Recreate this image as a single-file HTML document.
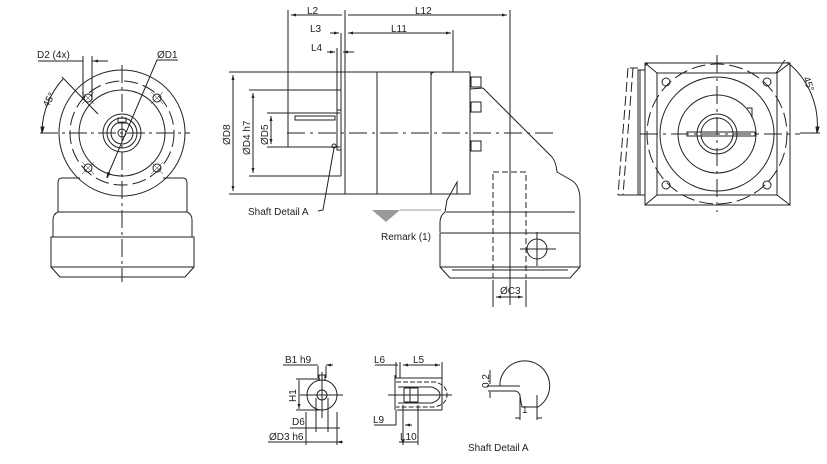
<!DOCTYPE html>
<html><head><style>
html,body{margin:0;padding:0;background:#fff;}
svg{display:block;font-family:"Liberation Sans",Arial,sans-serif;}
text{font-size:10px;fill:#222;}
</style></head><body>
<svg width="827" height="464" viewBox="0 0 827 464" xmlns="http://www.w3.org/2000/svg">
<defs>
<marker id="a" viewBox="0 0 10 10" refX="10" refY="5" markerWidth="7" markerHeight="5" orient="auto-start-reverse"><path d="M0,2 L10,5 L0,8 z" fill="#222"/></marker>
</defs>
<g stroke="#222" stroke-width="1" fill="none">
<!-- LEFT VIEW -->
<circle cx="122" cy="133" r="63"/>
<circle cx="122" cy="133" r="52" stroke-dasharray="14,5"/>
<circle cx="122" cy="133" r="43"/>
<circle cx="122" cy="133" r="19"/>
<circle cx="122" cy="133" r="15"/>
<circle cx="122" cy="133" r="11"/>
<circle cx="122" cy="133" r="4"/>
<rect x="118" y="118" width="8" height="5"/>
<g><circle cx="88" cy="98" r="4"/><circle cx="157" cy="98" r="4"/><circle cx="88" cy="168" r="4"/><circle cx="157" cy="168" r="4"/></g>
<path d="M82,92 l12,12 M94,92 l-12,12 M151,92 l12,12 M163,92 l-12,12 M82,162 l12,12 M94,162 l-12,12 M151,162 l12,12 M163,162 l-12,12" stroke-width="0.5"/>
<path d="M40,133 H190" stroke-dasharray="18,4,3,4"/>
<path d="M122,65 V282" stroke-dasharray="18,4,3,4"/>
<path d="M80,178 H62 Q58,178 58,183 V212 H187 V183 Q187,178 183,178 H163"/>
<path d="M58,212 Q53,214 53,220 V237 H192 V220 Q192,214 187,212"/>
<path d="M51,237 V267 L60,277 H185 L194,267 V237 Z"/>
<path d="M51,267 H194"/>
<!-- D1 leader -->
<path d="M178,60 H157 L107,177"/>
<path d="M108,172 l-1,6 l3,-5" fill="#222"/>
<!-- D2 -->
<path d="M38,61 H83 M92,61 H108 M83,56 V100 M92,56 V100"/>
<path d="M76,61 h6 M99,61 h-6" marker-end="url(#a)"/>
<!-- 45 arc -->
<path d="M62,77 L98,114"/>
<path d="M63,79 A80,80 0 0 0 42,133" />
<path d="M42,133 l-1,-6 l3,0 z" fill="#222"/>

<!-- MIDDLE VIEW -->
<path d="M288,10 V147 M345,10 V194 M341,33 V176 M337,48 V150 M453,30 V72 M510,10 V305"/>
<path d="M291,15 H342 M348,15 H507" marker-start="url(#a)" marker-end="url(#a)"/>
<path d="M330,33 H339" marker-end="url(#a)"/>
<path d="M348,33 H451" marker-start="url(#a)" marker-end="url(#a)"/>
<path d="M327,52 H335" marker-end="url(#a)"/>
<path d="M354,52 H343" marker-end="url(#a)"/>
<!-- left dims -->
<path d="M229,72 H345 M249,90 H341 M267,113 H340 M267,147 H340 M249,176 H341 M229,194 H345"/>
<path d="M233,75 V191" marker-start="url(#a)" marker-end="url(#a)"/>
<path d="M253,93 V173" marker-start="url(#a)" marker-end="url(#a)"/>
<path d="M271,116 V144" marker-start="url(#a)" marker-end="url(#a)"/>
<!-- shaft -->
<path d="M288,113 H337 M288,147 H337"/>
<rect x="295" y="116" width="40" height="4"/>
<rect x="337" y="110" width="4" height="40"/>
<circle cx="334" cy="146" r="2"/>
<path d="M334,148 L323,210 L318,211"/>
<!-- body -->
<rect x="345" y="72" width="86" height="122"/>
<path d="M377,72 V194"/>
<path d="M431,72 H435 Q431,72 431,76 M431,76 V194 M435,72 H470 V194 H431"/>
<path d="M470,89 L483,88 L552,157 Q556,162 557,172 L571,180 Q580,185 580,200 V232"/>
<path d="M470,194 L457,194 L457,182 L447,200 L445,212 Q440,216 440,222 V232"/>
<path d="M446,212 H575"/>
<rect x="471" y="77" width="10" height="10"/>
<rect x="471" y="102" width="10" height="10"/>
<rect x="471" y="141" width="10" height="10"/>
<path d="M440,233 H580 V267 L570,278 H450 L440,267 Z"/>
<path d="M440,267 H580 M452,270 H568"/>
<rect x="493" y="172" width="33" height="106" stroke-dasharray="6,3"/>
<circle cx="537" cy="249" r="10"/>
<path d="M520,249 H556 M537,232 V266"/>
<path d="M287,133 H557" stroke-dasharray="18,5,3,5"/>
<path d="M493,280 V307 M526,280 V307"/>
<path d="M496,297 H523" marker-start="url(#a)" marker-end="url(#a)"/>
<path d="M400,210 H441" stroke="#999"/>

<!-- RIGHT VIEW -->
<rect x="645" y="63" width="145" height="142"/>
<rect x="657" y="73" width="120" height="122"/>
<path d="M645,63 L657,73 M790,63 L777,73 M645,205 L657,195 M790,205 L777,195 M648,63 l-3,3"/>
<circle cx="717" cy="134" r="70" stroke-dasharray="14,5"/>
<circle cx="717" cy="134" r="57"/>
<circle cx="717" cy="134" r="39"/>
<circle cx="717" cy="134" r="20"/>
<circle cx="717" cy="134" r="16"/>
<rect x="687" y="132" width="68" height="4"/>
<path d="M747,108 H752 V118"/>
<circle cx="666" cy="82" r="4"/><circle cx="767" cy="82" r="4"/><circle cx="666" cy="185" r="4"/><circle cx="767" cy="185" r="4"/>
<path d="M640,70 V195 M645,70 H638 V195 H645"/>
<path d="M628,68 L618,195 M633,68 L623,195" stroke-dasharray="10,4"/>
<path d="M630,68 H638 M618,195 H638"/>
<path d="M640,134 H800 M717,55 V212" stroke-dasharray="18,5,3,5"/>
<path d="M785,60 L776,73 M787,62 A80,80 0 0 1 817,133 M800,133 H820"/>
<path d="M817,133 l-1,-6 l3,0 z" fill="#222"/>

<!-- DETAIL 1 -->
<circle cx="322" cy="395" r="15"/>
<circle cx="322" cy="395" r="5"/>
<path d="M319,380 V375 H325 V380"/>
<path d="M300,395 H343 M322,372 V418"/>
<path d="M318,366 V378 M326,366 V378 M283,365 H318"/>
<path d="M312,365 h6 M333,365 h-7" marker-end="url(#a)"/>
<path d="M296,379 H320 M296,410 H320 M299,382 V407" />
<path d="M299,382 V380 M299,407 V409" marker-end="url(#a)"/>
<path d="M316,398 V432 M328,398 V432 M306,412 V445 M337,412 V445"/>
<path d="M290,428 H340 M268,442 H340"/>
<path d="M310,428 h6 M334,428 h-6 M300,442 h6 M343,442 h-6" marker-end="url(#a)"/>
<!-- DETAIL 2 -->
<path d="M395,378 H442 M397,410 H442 M395,375 V410 M442,378 V410"/>
<path d="M396,382 H435 Q447,385 447,395 Q447,404 435,407 H396" stroke-dasharray="5,2"/>
<path d="M398,387 H432 Q440,390 440,395 Q440,400 432,403 H398"/>
<path d="M404,388 V402 M410,388 V402 M404,388 H418 V402 H404"/>
<path d="M388,395 H452"/>
<path d="M396,362 V378 M400,362 V378 M442,362 V378 M375,365 H398"/>
<path d="M403,365 H440" marker-start="url(#a)" marker-end="url(#a)"/>
<path d="M396,410 V425 M403,405 V425 M418,405 V445"/>
<path d="M374,425 H396 M412,425 h-7" marker-end="url(#a)"/>
<path d="M399,442 H418 M403,405 V445" marker-end="url(#a)"/>
<!-- DETAIL 3 -->
<path d="M500,382 A25,25 0 1 1 538,407 Q528,407 522,407 Q520,397 520,395 Q518,391 515,391 H488"/>
<path d="M500,382 V386 H520 M487,386 H500"/>
<path d="M520,395 V420 M537,395 V420 M515,418 h5 M542,418 h-5" stroke-width="1"/>
<path d="M490,370 V384 M490,392 V398"/>
</g>
<polygon points="372,210 400,210 386,222" fill="#999"/>
<g>
<text x="37" y="58">D2 (4x)</text>
<text x="157" y="58">ØD1</text>
<text transform="translate(48,108) rotate(-60)">45°</text>
<text x="307" y="14">L2</text>
<text x="415" y="14">L12</text>
<text x="310" y="32">L3</text>
<text x="391" y="32">L11</text>
<text x="311" y="51">L4</text>
<text transform="translate(230,145) rotate(-90)">ØD8</text>
<text transform="translate(250,155) rotate(-90)">ØD4 h7</text>
<text transform="translate(268,145) rotate(-90)">ØD5</text>
<text x="248" y="215">Shaft Detail  A</text>
<text x="381" y="240">Remark (1)</text>
<text x="500" y="294">ØC3</text>
<text transform="translate(803,78) rotate(70)">45°</text>
<text x="285" y="363">B1 h9</text>
<text transform="translate(296,402) rotate(-90)">H1</text>
<text x="292" y="425">D6</text>
<text x="269" y="440">ØD3 h6</text>
<text x="374" y="363">L6</text>
<text x="413" y="363">L5</text>
<text x="373" y="423">L9</text>
<text x="400" y="440">L10</text>
<text transform="translate(489,388) rotate(-90)">0,2</text>
<text x="522" y="413">1</text>
<text x="468" y="451">Shaft  Detail  A</text>
</g>
</svg>
</body></html>
